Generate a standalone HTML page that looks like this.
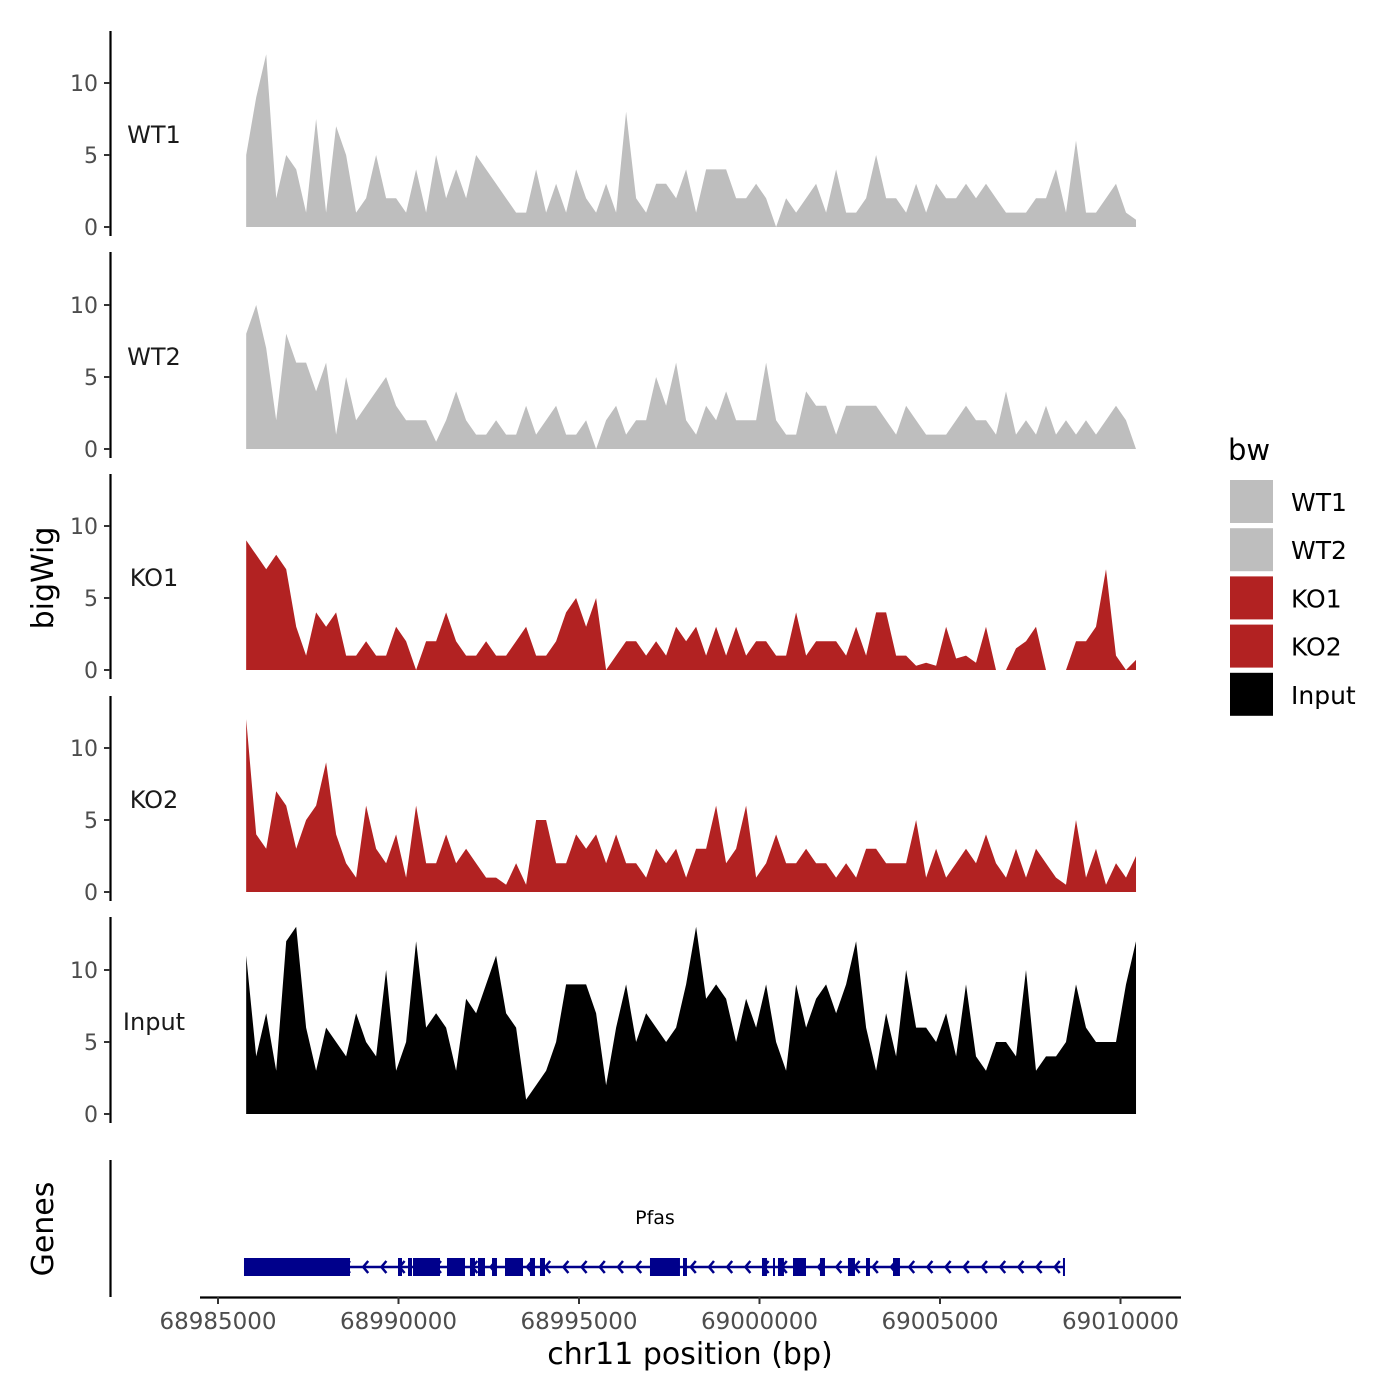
<!DOCTYPE html>
<html><head><meta charset="utf-8"><style>
html,body{margin:0;padding:0;background:#fff;}
svg{display:block;font-family:"DejaVu Sans","Liberation Sans",sans-serif;}
</style></head><body>
<svg id="chart" width="1400" height="1400" viewBox="0 0 1400 1400" xmlns="http://www.w3.org/2000/svg"></svg>
<script>
const trackNames = ["WT1","WT2","KO1","KO2","Input"];
const trackColors = ["#bebebe","#bebebe","#b22222","#b22222","#000000"];
const wt1 = [5,9,12,2,5,4,1,7.5,1,7,5,1,2,5,2,2,1,4,1,5,2,4,2,5,4,3,2,1,1,4,1,3,1,4,2,1,3,1,8,2,1,3,3,2,4,1,4,4,4,2,2,3,2,0,2,1,2,3,1,4,1,1,2,5,2,2,1,3,1,3,2,2,3,2,3,2,1,1,1,2,2,4,1,6,1,1,2,3,1,0.5];
const wt2 = [8,10,7,2,8,6,6,4,6,1,5,2,3,4,5,3,2,2,2,0.5,2,4,2,1,1,2,1,1,3,1,2,3,1,1,2,0,2,3,1,2,2,5,3,6,2,1,3,2,4,2,2,2,6,2,1,1,4,3,3,1,3,3,3,3,2,1,3,2,1,1,1,2,3,2,2,1,4,1,2,1,3,1,2,1,2,1,2,3,2,0];
const ko1 = [9,8,7,8,7,3,1,4,3,4,1,1,2,1,1,3,2,0,2,2,4,2,1,1,2,1,1,2,3,1,1,2,4,5,3,5,0,1,2,2,1,2,1,3,2,3,1,3,1,3,1,2,2,1,1,4,1,2,2,2,1,3,1,4,4,1,1,0.3,0.5,0.3,3,0.8,1,0.5,3,0,0,1.5,2,3,0,0,0,2,2,3,7,1,0,0.7];
const ko2 = [12,4,3,7,6,3,5,6,9,4,2,1,6,3,2,4,1,6,2,2,4,2,3,2,1,1,0.5,2,0.5,5,5,2,2,4,3,4,2,4,2,2,1,3,2,3,1,3,3,6,2,3,6,1,2,4,2,2,3,2,2,1,2,1,3,3,2,2,2,5,1,3,1,2,3,2,4,2,1,3,1,3,2,1,0.5,5,1,3,0.5,2,1,2.5];
const input = [11,4,7,3,12,13,6,3,6,5,4,7,5,4,10,3,5,12,6,7,6,3,8,7,9,11,7,6,1,2,3,5,9,9,9,7,2,6,9,5,7,6,5,6,9,13,8,9,8,5,8,6,9,5,3,9,6,8,9,7,9,12,6,3,7,4,10,6,6,5,7,4,9,4,3,5,5,4,10,3,4,4,5,9,6,5,5,5,9,12];
const seriesValues = [wt1,wt2,ko1,ko2,input];
const yTicks = [0,5,10];
const xTicks = [68985000,68990000,68995000,69000000,69005000,69010000];
const dataStart = 68985780, dataEnd = 69010430;
const exonStarts = [68985720,68989986,68990263,68990402,68991343,68991980,68992202,68992590,68992950,68993642,68993919,68996966,68997881,69000069,69000374,69000512,69000928,69001675,69002451,69002950,69003698];
const exonEnds   = [68988657,68990097,68990374,68991150,68991842,68992119,68992396,68992728,68993449,68993781,68994058,68997797,68997991,69000207,69000429,69000678,69001288,69001814,69002645,69003060,69003891];
const geneStart = 68985720, geneEnd = 69008434;

const NS="http://www.w3.org/2000/svg";
const svg=document.getElementById('chart');
function mk(tag,attrs,parent){const e=document.createElementNS(NS,tag);for(const k in attrs)e.setAttribute(k,attrs[k]);(parent||svg).appendChild(e);return e;}
const xScale = bp => 218 + (bp-68985000)*(180.5/5000);
const zeros=[227,449,670,892,1114];
const tops=[31,252,474,696,917];
const yScale = (i,v) => zeros[i] - v*14.4;

for(let i=0;i<5;i++){
  const g=mk('g',{});
  
  
  const ax=mk('line',{x1:110.5,x2:110.5,y1:tops[i],y2:zeros[i]+9,stroke:'#000','stroke-width':2.2},g);
  
  
  yTicks.forEach(t=>{
    const y=yScale(i,t);
    const tk=mk('line',{x1:104,x2:110,y1:y,y2:y,stroke:'#333','stroke-width':2},g);
    
    
    const tl=mk('text',{x:98,y:y+8,'text-anchor':'end','font-size':22,fill:'#4d4d4d'},g);
    tl.textContent=t;
    
    
  });
  const lab=mk('text',{x:154,y:zeros[i]-84,'text-anchor':'middle','font-size':24,fill:'#1a1a1a'},g);
  lab.textContent=trackNames[i];
  
  
  const vals=seriesValues[i], n=vals.length;
  let d='M'+xScale(dataStart)+','+zeros[i];
  vals.forEach((v,k)=>{const bp=dataStart+(dataEnd-dataStart)*k/(n-1);d+=' L'+xScale(bp).toFixed(1)+','+yScale(i,v).toFixed(1);});
  d+=' L'+xScale(dataEnd)+','+zeros[i]+' Z';
  const area=mk('path',{d:d,fill:trackColors[i]},g);
  
  
}
const yt=mk('text',{x:0,y:0,transform:'translate(53,578) rotate(-90)','text-anchor':'middle','font-size':30,fill:'#000'});
yt.textContent='bigWig';


const gt=mk('text',{x:0,y:0,transform:'translate(53,1229) rotate(-90)','text-anchor':'middle','font-size':30,fill:'#000'});
gt.textContent='Genes';


const ga=mk('line',{x1:110.5,x2:110.5,y1:1160,y2:1297,stroke:'#000','stroke-width':2.2});


const gl=mk('line',{x1:xScale(geneStart),x2:xScale(geneEnd),y1:1267,y2:1267,stroke:'#00008b','stroke-width':2.5});


const ge=mk('line',{x1:xScale(geneEnd),x2:xScale(geneEnd),y1:1258,y2:1276,stroke:'#00008b','stroke-width':2});


for(let x=xScale(geneStart)+10;x<xScale(geneEnd)-4;x+=18.2){
  const a=mk('path',{d:`M${x+5},${1261} L${x},${1267} L${x+5},${1273}`,fill:'none',stroke:'#00008b','stroke-width':2.5});
  
  
}
exonStarts.forEach((s,k)=>{
  const x1=xScale(s),x2=xScale(exonEnds[k]);
  const r=mk('rect',{x:x1,y:1258,width:Math.max(2,x2-x1),height:18,fill:'#00008b'});
  
  
});
const gn=mk('text',{x:655,y:1224,'text-anchor':'middle','font-size':19,fill:'#000'});
gn.textContent='Pfas';


const xa=mk('line',{x1:200,x2:1181,y1:1297.5,y2:1297.5,stroke:'#000','stroke-width':2.2});


xTicks.forEach(t=>{
  const x=xScale(t);
  const tk=mk('line',{x1:x,x2:x,y1:1297,y2:1304,stroke:'#333','stroke-width':2});
  
  
  const tl=mk('text',{x:x,y:1329,'text-anchor':'middle','font-size':23,fill:'#4d4d4d'});
  tl.textContent=t;
  
  
});
const xt=mk('text',{x:690,y:1364,'text-anchor':'middle','font-size':30,fill:'#000'});
xt.textContent='chr11 position (bp)';


const lg=mk('g',{});


const lt=mk('text',{x:1228,y:460,'font-size':29,fill:'#000'},lg);
lt.textContent='bw';


trackNames.forEach((nm,k)=>{
  const y=480+k*48.2;
  const r=mk('rect',{x:1230,y:y,width:43,height:43,fill:trackColors[k]},lg);
  
  
  const t=mk('text',{x:1291,y:y+31,'font-size':25,fill:'#000'},lg);
  t.textContent=nm;
  
  
});
</script>
</body></html>
